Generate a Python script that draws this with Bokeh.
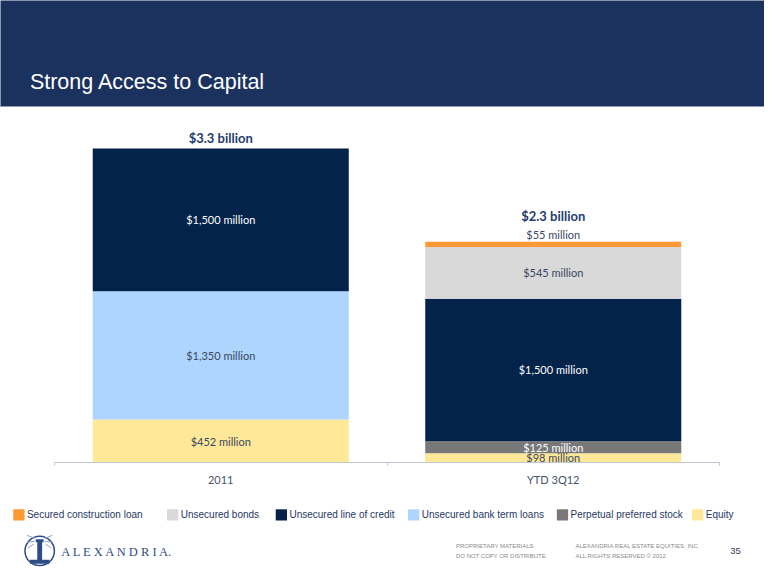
import numpy as np
from bokeh.plotting import figure
from bokeh.layouts import column
from bokeh.models import Range1d, FixedTicker, ColumnDataSource, Label, Span
from bokeh.core.properties import value
from bokeh.embed import file_html
from bokeh.resources import INLINE

# ---------------- data ----------------
categories = ["2011", "YTD 3Q12"]
series = ["Equity", "Perpetual preferred stock", "Unsecured bank term loans",
          "Unsecured line of credit", "Unsecured bonds", "Secured construction loan"]
equity = [452, 98]
perpetual_preferred = [0, 125]
bank_term_loans = [1350, 0]
line_of_credit = [1500, 1500]
unsecured_bonds = [0, 545]
construction_loan = [0, 55]
title_text = "Strong Access to Capital"

# ---------------- styles ----------------
colors = ["#FFE897", "#787878", "#ADD5FD", "#03234B", "#D9D9D9", "#FF9933"]
label_colors = ["#3B4763", "#FFFFFF", "#3B4763", "#FFFFFF", "#3B4763", "#3B4763"]
HEADER = "#1B325F"
W = 764
H_HEAD, H_MAIN, H_FOOT = 107, 384, 78

vals = np.array([equity, perpetual_preferred, bank_term_loans,
                 line_of_credit, unsecured_bonds, construction_loan], dtype=float)
tops = vals.cumsum(axis=0)
bottoms = tops - vals
totals = vals.sum(axis=0)
xs = np.arange(len(categories)) + 0.5


def blank(height, xr, yr, bg="white"):
    fig = figure(width=W, height=height, x_range=xr, y_range=yr,
                 output_backend="svg", toolbar_location=None, min_border=0,
                 x_axis_location=None, y_axis_location=None,
                 background_fill_color=bg, border_fill_color=bg, frame_align=False)
    fig.outline_line_color = None
    fig.grid.visible = False
    return fig


# ---------------- header (slide coordinates) ----------------
h = blank(H_HEAD, Range1d(0, 780), Range1d(110, 0), HEADER)
h.add_layout(Label(x=30, y=84, text=title_text, text_font="Liberation Sans",
                   text_font_size="21.5px", text_color="white",
                   text_baseline="alphabetic"))
h.add_layout(Span(location=109.2, dimension="width", line_color="#8E9CB8", line_width=1.5))

# ---------------- main chart ----------------
p = figure(width=W, height=H_MAIN, x_range=Range1d(0, len(categories)),
           y_range=Range1d(0, 3629), output_backend="svg", toolbar_location=None,
           y_axis_location=None, min_border_left=54, min_border_right=45,
           min_border_top=10, min_border_bottom=29, frame_align=False)
p.outline_line_color = None
p.grid.visible = False

src = ColumnDataSource(dict(x=xs, **{s: vals[i] for i, s in enumerate(series)}))
p.vbar_stack(series, x="x", width=0.77, fill_color=colors, line_color=None, source=src)

in_x, in_y, in_t, in_c = [], [], [], []
ab_x, ab_y, ab_t, ab_c = [], [], [], []
tot_off = []
for j in range(len(categories)):
    above = False
    for i in range(len(series)):
        v = vals[i, j]
        if v <= 0:
            continue
        txt = f"${int(v):,} million"
        is_top = tops[i, j] == totals[j]
        if v < 60 and is_top:
            ab_x.append(xs[j]); ab_y.append(tops[i, j]); ab_t.append(txt); ab_c.append(label_colors[i])
            above = True
        else:
            in_x.append(xs[j]); in_y.append((tops[i, j] + bottoms[i, j]) / 2)
            in_t.append(txt); in_c.append(label_colors[i])
    tot_off.append(-26 if above else -11)

p.text(x=in_x, y=in_y, text=in_t, text_color=in_c, text_align="center",
       text_baseline="middle", text_font=value("Lato"), text_font_size="11px")
p.text(x=ab_x, y=ab_y, text=ab_t, text_color=ab_c, text_align="center",
       text_baseline="middle", y_offset=-7, text_font=value("Lato"), text_font_size="11px")
tot_src = ColumnDataSource(dict(x=xs, y=totals,
                                t=[f"${t / 1000:.1f} billion" for t in totals],
                                off=tot_off))
p.text(x="x", y="y", text="t", y_offset="off", source=tot_src, text_align="center",
       text_baseline="middle", text_font=value("Lato"), text_font_style="bold",
       text_font_size="13px", text_color="#1F3D70")

ax = p.xaxis[0]
ax.ticker = FixedTicker(ticks=[float(x) for x in xs],
                        minor_ticks=[float(v) for v in range(len(categories) + 1)])
ax.major_label_overrides = {float(x): c for x, c in zip(xs, categories)}
ax.major_tick_out = 0
ax.major_tick_in = 0
ax.minor_tick_out = 3
ax.minor_tick_in = 0
ax.axis_line_color = "#BFC7D5"
ax.minor_tick_line_color = "#BFC7D5"
ax.major_label_text_font = "Lato"
ax.major_label_text_font_size = "11px"
ax.major_label_text_color = "#44546A"
ax.major_label_standoff = 7

# ---------------- legend + footer (slide coordinates) ----------------
f = blank(H_FOOT, Range1d(0, 780), Range1d(585, 505))

legend_left = [13, 170, 281, 416, 568, 706]
leg_names = series[::-1]
leg_colors = colors[::-1]
f.rect(x=[l + 5.75 for l in legend_left], y=[529] * len(leg_names), width=11.5, height=11.5,
       fill_color=leg_colors, line_color=None)
f.text(x=[l + 14 for l in legend_left], y=[529] * len(leg_names), text=leg_names,
       text_baseline="middle", text_font=value("Liberation Sans"),
       text_font_size="10px", text_color="#1F3864")

# logo
LOGO = "#2E4D86"
f.ellipse(x=[40], y=[566], width=30, height=30, fill_color=None, line_color=LOGO, line_width=1.5)
f.quad(left=[37.5], right=[42.5], top=[556], bottom=[576], fill_color=LOGO, line_color=None)
f.quad(left=[36], right=[44], top=[554], bottom=[557], fill_color=LOGO, line_color=None)
f.segment(x0=[35, 35, 45, 45, 34, 46], y0=[553, 556, 553, 556, 559, 559],
          x1=[27, 27, 53, 53, 28, 52], y1=[550, 557, 550, 557, 563, 563],
          line_color="#8FA4C8", line_width=1)
f.quad(left=[30], right=[50], top=[575], bottom=[579], fill_color=LOGO, line_color=None)
f.text(x=[62], y=[567], text=["A L E X A N D R I A."], text_baseline="middle",
       text_font=value("Liberation Serif"), text_font_size="12.5px", text_color=LOGO)

f.text(x=[465, 465], y=[561, 571], text=["PROPRIETARY MATERIALS", "DO NOT COPY OR DISTRIBUTE"],
       text_baseline="middle", text_font=value("Liberation Sans"), text_font_size="6px",
       text_color="#8A8A8A")
f.text(x=[587, 587], y=[561, 571],
       text=["ALEXANDRIA REAL ESTATE EQUITIES, INC.", "ALL RIGHTS RESERVED \u00a9 2012"],
       text_baseline="middle", text_font=value("Liberation Sans"), text_font_size="6px",
       text_color="#8A8A8A")
f.text(x=[745], y=[566], text=["35"], text_baseline="middle",
       text_font=value("Liberation Sans"), text_font_size="9.5px", text_color="#2E3D5C")

layout = column(h, p, f, spacing=0)
open("out.html", "w").write(file_html(layout, INLINE))
